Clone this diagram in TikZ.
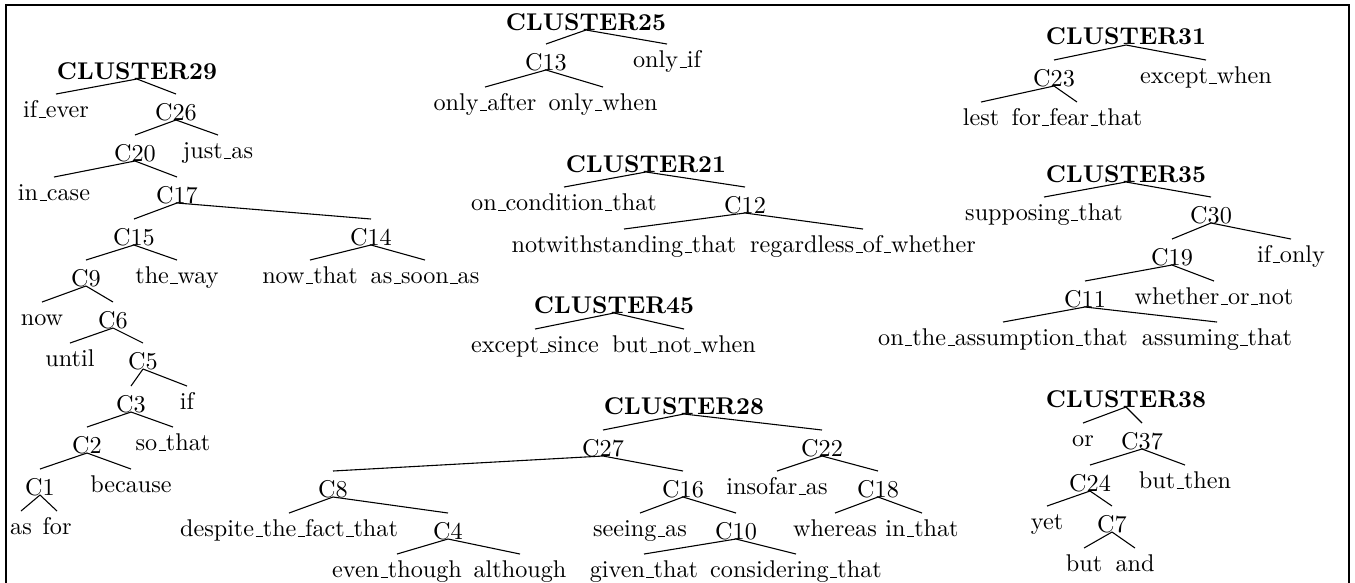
\documentclass[tikz,border=0pt]{standalone}
\newcommand{\us}{\leavevmode\kern.06em\vbox{\hrule width.3em}}
\begin{document}
\begin{tikzpicture}[x=0.4132pt,y=-0.4132pt,
  nbase/.style={inner sep=0pt, outer sep=0pt, anchor=base, text depth=0pt, font=\fontsize{10}{12}\selectfont},
  cn/.style={nbase, text height=10.74pt},
  wd/.style={nbase, text height=9.7pt},
  rt/.style={nbase, text height=10pt, font=\fontsize{10}{12}\selectfont\bfseries},
  edge/.style={line width=0.45pt},
  frame/.style={line width=0.5pt}]
\useasboundingbox (0,0) rectangle (1355,582);
\draw[frame] (6,590) -- (6,5) -- (1349,5) -- (1349,590);

% CLUSTER29
\node[rt] (r29) at (137,79) {CLUSTER29};
\node[wd] (ifever) at (56,117.5) {if\us ever};
\node[cn] (c26) at (176,120) {C26};
\node[cn] (c20) at (135,161) {C20};
\node[wd] (justas) at (218,158.5) {just\us as};
\node[wd] (incase) at (54,200.5) {in\us case};
\node[cn] (c17) at (177,203) {C17};
\node[cn] (c15) at (134,245) {C15};
\node[cn] (c14) at (371,245) {C14};
\node[cn] (c9) at (86,286) {C9};
\node[wd] (theway) at (177,283.5) {the\us way};
\node[wd] (nowthat) at (310,283.5) {now\us that};
\node[wd] (assoonas) at (425,283.5) {as\us soon\us as};
\node[wd] (now) at (42,325.5) {now};
\node[cn] (c6) at (113,328) {C6};
\node[wd] (until) at (70,366.5) {until};
\node[cn] (c5) at (143,369) {C5};
\node[cn] (c3) at (131,412) {C3};
\node[wd] (wif) at (187,409.5) {if};
\node[cn] (c2) at (87,453) {C2};
\node[wd] (sothat) at (173,450.5) {so\us that};
\node[cn] (c1) at (40,495) {C1};
\node[wd] (because) at (131,492.5) {because};
\node[wd] (was) at (21,534.5) {as};
\node[wd] (wfor) at (57,534.5) {for};
\foreach \p/\c in {r29/ifever,r29/c26,c26/c20,c26/justas,c20/incase,c20/c17,c17/c15,c17/c14,c15/c9,c15/theway,c14/nowthat,c14/assoonas,c9/now,c9/c6,c6/until,c6/c5,c5/c3,c5/wif,c3/c2,c3/sothat,c2/c1,c2/because,c1/was,c1/wfor}
  \draw[edge] (\p.south) -- (\c.north);

% CLUSTER25
\node[rt] (r25) at (586,30) {CLUSTER25};
\node[cn] (c13) at (546,70) {C13};
\node[wd] (onlyif) at (667,67.5) {only\us if};
\node[wd] (onlyafter) at (485,110.5) {only\us after};
\node[wd] (onlywhen) at (603,110.5) {only\us when};
\foreach \p/\c in {r25/c13,r25/onlyif,c13/onlyafter,c13/onlywhen}
  \draw[edge] (\p.south) -- (\c.north);

% CLUSTER21
\node[rt] (r21) at (646,172) {CLUSTER21};
\node[wd] (oncond) at (564,210.5) {on\us condition\us that};
\node[cn] (c12) at (745,213) {C12};
\node[wd] (notwith) at (624,252.5) {notwithstanding\us that};
\node[wd] (regardless) at (863,252.5) {regardless\us of\us whether};
\foreach \p/\c in {r21/oncond,r21/c12,c12/notwith,c12/regardless}
  \draw[edge] (\p.south) -- (\c.north);

% CLUSTER45
\node[rt] (r45) at (614,313) {CLUSTER45};
\node[wd] (exceptsince) at (535,352.5) {except\us since};
\node[wd] (butnotwhen) at (684,352.5) {but\us not\us when};
\foreach \p/\c in {r45/exceptsince,r45/butnotwhen}
  \draw[edge] (\p.south) -- (\c.north);

% CLUSTER28
\node[rt] (r28) at (684,414) {CLUSTER28};
\node[cn] (c27) at (603,456) {C27};
\node[cn] (c22) at (822,456) {C22};
\node[cn] (c8) at (333,497) {C8};
\node[cn] (c16) at (683,497) {C16};
\node[wd] (insofaras) at (777,494.5) {insofar\us as};
\node[cn] (c18) at (878,497) {C18};
\node[wd] (despite) at (289,536.5) {despite\us the\us fact\us that};
\node[cn] (c4) at (448,539) {C4};
\node[wd] (seeingas) at (640,536.5) {seeing\us as};
\node[cn] (c10) at (736,539) {C10};
\node[wd] (whereas) at (835,536.5) {whereas};
\node[wd] (inthat) at (922,536.5) {in\us that};
\node[wd] (eventhough) at (397,577.5) {even\us though};
\node[wd] (although) at (520,577.5) {although};
\node[wd] (giventhat) at (644,577.5) {given\us that};
\node[wd] (considering) at (796,577.5) {considering\us that};
\foreach \p/\c in {r28/c27,r28/c22,c27/c8,c27/c16,c22/insofaras,c22/c18,c8/despite,c8/c4,c16/seeingas,c16/c10,c18/whereas,c18/inthat,c4/eventhough,c4/although,c10/giventhat,c10/considering}
  \draw[edge] (\p.south) -- (\c.north);

% CLUSTER31
\node[rt] (r31) at (1126,45) {CLUSTER31};
\node[cn] (c23) at (1054,86) {C23};
\node[wd] (exceptwhen) at (1206,83.5) {except\us when};
\node[wd] (lest) at (981,125.5) {lest};
\node[wd] (forfear) at (1077,125.5) {for\us fear\us that};
\foreach \p/\c in {r31/c23,r31/exceptwhen,c23/lest,c23/forfear}
  \draw[edge] (\p.south) -- (\c.north);

% CLUSTER35
\node[rt] (r35) at (1126,182) {CLUSTER35};
\node[wd] (supposing) at (1044,220.5) {supposing\us that};
\node[cn] (c30) at (1211,223) {C30};
\node[cn] (c19) at (1172,265) {C19};
\node[wd] (ifonly) at (1291,262.5) {if\us only};
\node[cn] (c11) at (1085,307) {C11};
\node[wd] (whether) at (1214,304.5) {whether\us or\us not};
\node[wd] (onassump) at (1003,345.5) {on\us the\us assumption\us that};
\node[wd] (assuming) at (1217,345.5) {assuming\us that};
\foreach \p/\c in {r35/supposing,r35/c30,c30/c19,c30/ifonly,c19/c11,c19/whether,c11/onassump,c11/assuming}
  \draw[edge] (\p.south) -- (\c.north);

% CLUSTER38
\node[rt] (r38) at (1126,407) {CLUSTER38};
\node[wd] (wor) at (1083,446.5) {or};
\node[cn] (c37) at (1142,449) {C37};
\node[cn] (c24) at (1090,491) {C24};
\node[wd] (butthen) at (1185,488.5) {but\us then};
\node[wd] (yet) at (1047,529.5) {yet};
\node[cn] (c7) at (1112,532) {C7};
\node[wd] (wbut) at (1084,571.5) {but};
\node[wd] (wand) at (1135,571.5) {and};
\foreach \p/\c in {r38/wor,r38/c37,c37/c24,c37/butthen,c24/yet,c24/c7,c7/wbut,c7/wand}
  \draw[edge] (\p.south) -- (\c.north);
\end{tikzpicture}
\end{document}
